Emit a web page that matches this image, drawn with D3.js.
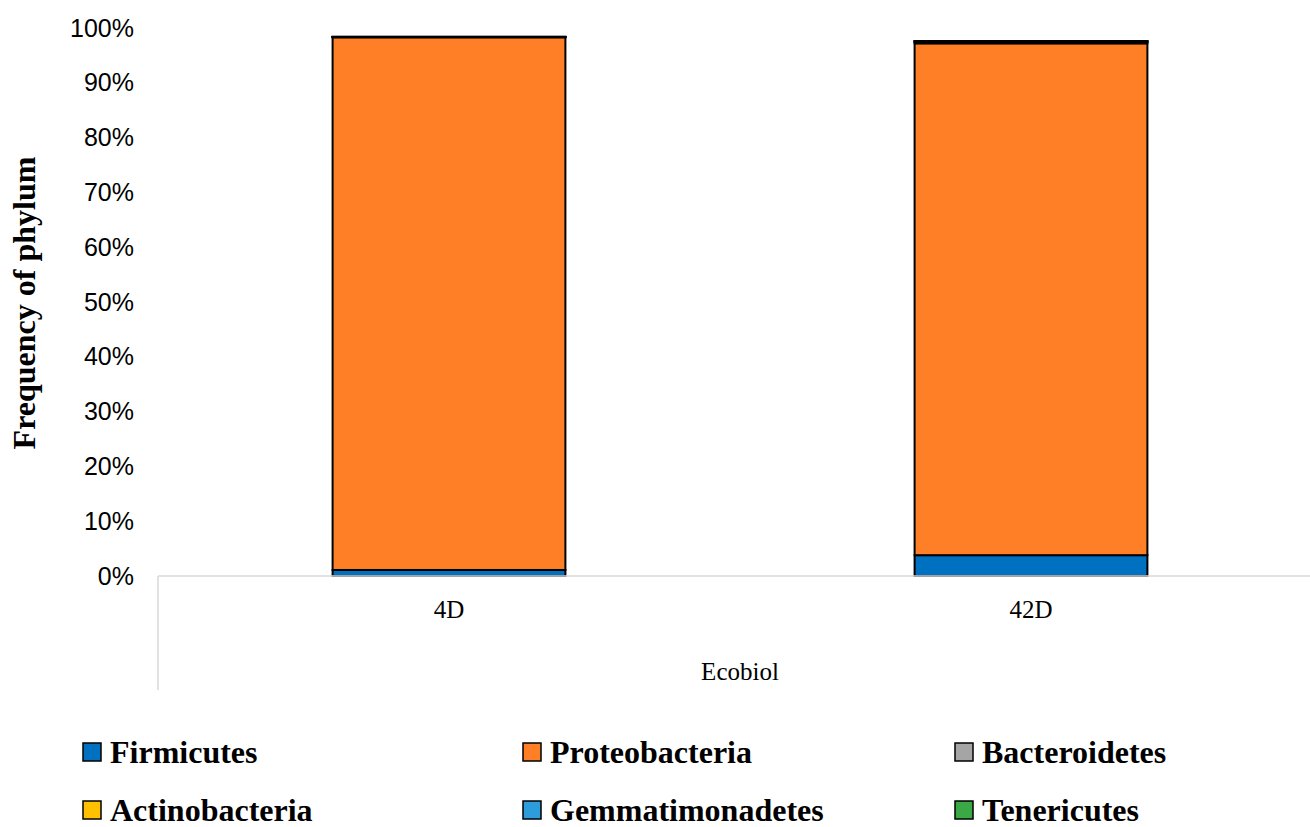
<!DOCTYPE html>
<html>
<head>
<meta charset="utf-8">
<script src="https://cdn.jsdelivr.net/npm/d3@7"></script>
<style>
  html, body { margin: 0; padding: 0; background: #fff; }
  svg { display: block; }
</style>
</head>
<body>
<svg id="chart" width="1310" height="827"></svg>
<script>
// Sampling days (group: Ecobiol)
const categories = ["4D", "42D"];
const groupLabel = "Ecobiol";

// Phylum order, bottom to top of each stack
const phyla = ["Firmicutes", "Proteobacteria", "Bacteroidetes", "Actinobacteria", "Gemmatimonadetes", "Tenericutes"];
const phylumColors = ["#0070C0", "#FF7F27", "#A5A5A5", "#FFC000", "#2E9BDA", "#3AA845"];

// Relative frequency (%) of each phylum per sample
const firmicutes       = [1.1, 3.8];
const proteobacteria   = [97.2, 93.4];
const bacteroidetes    = [0.05, 0.3];
const actinobacteria   = [0.02, 0.05];
const gemmatimonadetes = [0.01, 0.03];
const tenericutes      = [0.01, 0.02];

const yTicks = [0, 10, 20, 30, 40, 50, 60, 70, 80, 90, 100];

const seriesValues = [firmicutes, proteobacteria, bacteroidetes, actinobacteria, gemmatimonadetes, tenericutes];
const table = categories.map((c, i) => {
  const row = { sample: c };
  phyla.forEach((p, k) => { row[p] = seriesValues[k][i]; });
  return row;
});

const svg = d3.select("#chart");

const x = d3.scaleBand().domain(categories).range([158, 1322]).paddingInner(0.6).paddingOuter(0.3);
const y = d3.scaleLinear().domain([0, 100]).range([576, 28]);

const stacked = d3.stack().keys(phyla)(table);

// Stacked bars
svg.append("g").selectAll("g")
  .data(stacked)
  .join("g")
  .attr("fill", (d, i) => phylumColors[i])
  .selectAll("rect")
  .data(d => d)
  .join("rect")
  .attr("x", d => x(d.data.sample))
  .attr("width", x.bandwidth())
  .attr("y", d => y(d[1]))
  .attr("height", d => Math.max(0, y(d[0]) - y(d[1])))
  .attr("stroke", "#000")
  .attr("stroke-width", 2);

// Category axis: baseline and the grouping divider
svg.append("line")
  .attr("x1", 158).attr("x2", 1310)
  .attr("y1", y(0)).attr("y2", y(0))
  .attr("stroke", "#D9D9D9").attr("stroke-width", 1.5);
svg.append("line")
  .attr("x1", 158).attr("x2", 158)
  .attr("y1", y(0)).attr("y2", 690)
  .attr("stroke", "#D9D9D9").attr("stroke-width", 1.5);

// Y axis tick labels
const yAxis = d3.axisLeft(y).tickValues(yTicks).tickFormat(d => d + "%").tickSize(0).tickPadding(0);
const gy = svg.append("g").attr("transform", "translate(134,0)").call(yAxis);
gy.select(".domain").remove();
gy.selectAll("text")
  .attr("font-family", "'Liberation Sans', Arial, sans-serif")
  .attr("font-size", 25)
  .attr("fill", "#000");

// X axis category labels
const xAxis = d3.axisBottom(x).tickSize(0).tickPadding(0);
const gx = svg.append("g").attr("transform", "translate(0,600)").call(xAxis);
gx.select(".domain").remove();
gx.selectAll("text")
  .attr("font-family", "'Liberation Serif', 'Times New Roman', serif")
  .attr("font-size", 25)
  .attr("dy", "0.71em")
  .attr("fill", "#000");

// Group label
svg.append("text")
  .attr("x", 740).attr("y", 680)
  .attr("text-anchor", "middle")
  .attr("font-family", "'Liberation Serif', 'Times New Roman', serif")
  .attr("font-size", 25)
  .text(groupLabel);

// Y axis title
svg.append("text")
  .attr("transform", "translate(35,303) rotate(-90)")
  .attr("text-anchor", "middle")
  .attr("font-family", "'Liberation Serif', 'Times New Roman', serif")
  .attr("font-weight", "bold")
  .attr("font-size", 32)
  .text("Frequency of phylum");

// Legend: three columns, two rows
const legendCols = [83, 523, 955];
const legendRows = [752, 810];
const legend = svg.append("g").selectAll("g")
  .data(phyla)
  .join("g")
  .attr("transform", (d, i) => `translate(${legendCols[i % 3]},${legendRows[Math.floor(i / 3)]})`);
legend.append("rect")
  .attr("x", 0).attr("y", -9)
  .attr("width", 18).attr("height", 18)
  .attr("fill", (d, i) => phylumColors[i])
  .attr("stroke", "#000").attr("stroke-width", 1.5);
legend.append("text")
  .attr("x", 27).attr("y", 0)
  .attr("dy", "0.35em")
  .attr("font-family", "'Liberation Serif', 'Times New Roman', serif")
  .attr("font-weight", "bold")
  .attr("font-size", 32)
  .text(d => d);
</script>
</body>
</html>
